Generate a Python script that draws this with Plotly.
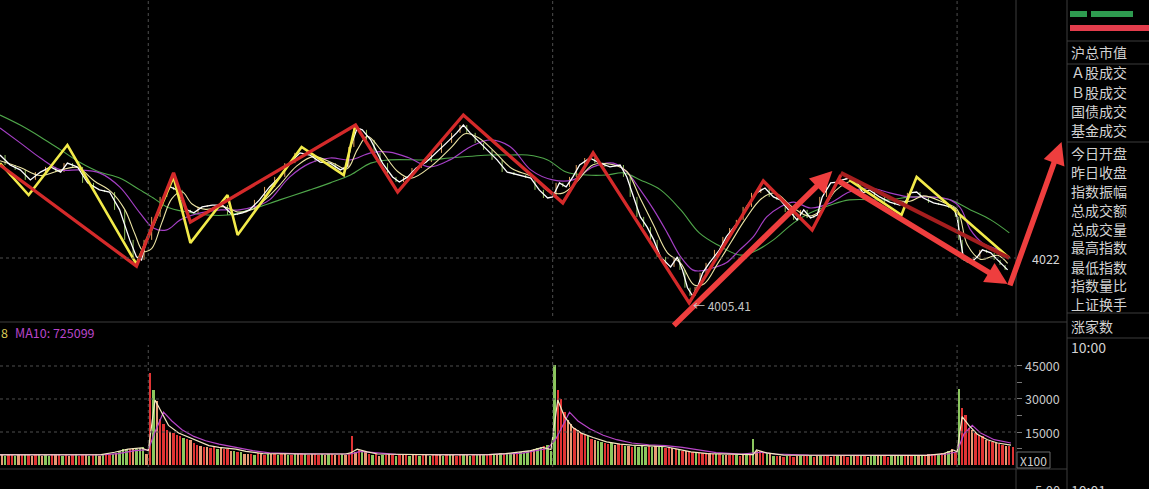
import plotly.graph_objects as go

# ---- price pane: x = minutes counted from the left edge, y = index points ----
close_min = [0, 6, 12, 18, 24, 30, 36, 40, 46, 52, 59, 65, 71, 77, 81, 84, 87, 93, 97, 101,
             105, 111, 115, 120, 126, 132, 138, 144, 148, 154, 160, 166, 172, 178, 184, 190, 196, 202, 206, 208,
             212, 215, 220, 224, 227, 233, 237, 242, 247, 253, 259, 265, 271, 275, 279, 285, 289, 295, 301, 309,
             315, 320, 325, 328, 332, 336, 340, 344, 350, 356, 362, 368, 372, 376, 380, 384, 388, 392, 398, 402,
             405, 408, 411, 414, 417, 421, 427, 431, 435, 439, 443, 449, 454, 459, 463, 469, 473, 477, 481, 485,
             488, 493, 497, 500, 504, 509, 512, 516, 522, 528, 534, 537, 540, 544, 548, 554, 560, 566, 568, 570,
             572, 576, 580, 583, 588, 592, 595, 598]
close_val = [4060.1, 4056.4, 4054.6, 4050.9, 4053.8, 4055.7, 4053.8, 4057.1, 4055.7, 4049.8,
             4047.2, 4046.4, 4039.8, 4028.7, 4022.4, 4021.3, 4028.7, 4037.2, 4044.6, 4048.3,
             4047.2, 4039.8, 4038.7, 4040.9, 4041.6, 4041.6, 4037.9, 4038.7, 4039.8, 4043.5,
             4048.3, 4052.0, 4057.1, 4060.9, 4060.1, 4057.5, 4057.1, 4054.6, 4055.7, 4063.1,
             4070.1, 4069.4, 4065.7, 4060.9, 4057.1, 4052.0, 4050.1, 4052.0, 4055.3, 4057.5,
             4060.9, 4064.6, 4068.3, 4071.2, 4068.3, 4064.6, 4062.0, 4058.3, 4053.8, 4052.7,
             4051.6, 4047.2, 4044.2, 4044.6, 4049.8, 4048.3, 4052.0, 4056.4, 4059.0, 4057.1,
             4055.7, 4056.4, 4052.0, 4044.6, 4037.2, 4033.5, 4028.7, 4022.4, 4018.7, 4022.4,
             4017.6, 4011.0, 4008.0, 4011.3, 4016.5, 4020.2, 4025.0, 4029.8, 4033.1, 4036.1,
             4040.9, 4046.1, 4047.9, 4044.6, 4043.5, 4039.0, 4036.1, 4039.8, 4036.8, 4037.9,
             4044.6, 4049.8, 4050.1, 4050.9, 4051.6, 4049.8, 4046.1, 4047.2, 4044.6, 4042.7,
             4041.6, 4042.4, 4046.1, 4046.4, 4044.2, 4042.4, 4041.6, 4040.5, 4037.2, 4028.7,
             4021.3, 4020.2, 4022.4, 4025.0, 4023.9, 4021.3, 4019.4, 4017.6]

# short average (cream line)
ma_cream_min = [0, 12, 24, 36, 46, 56, 66, 74, 80, 85, 90, 96, 102, 108, 114, 122, 132, 142, 150, 158,
                166, 176, 186, 198, 206, 212, 218, 226, 236, 244, 256, 268, 276, 284, 294, 304, 316, 326, 334, 342,
                352, 364, 372, 380, 388, 396, 404, 412, 418, 426, 434, 442, 452, 460, 470, 480, 488, 496, 506, 516,
                528, 540, 548, 560, 568, 574, 582, 592, 598]
ma_cream_val = [4058.0, 4055.5, 4052.5, 4054.5, 4055.5, 4050.5, 4046.5, 4040.0, 4031.0, 4024.5,
                4025.5, 4035.0, 4044.0, 4046.5, 4042.0, 4040.0, 4041.0, 4039.0, 4040.0, 4044.0,
                4049.0, 4056.0, 4059.5, 4057.0, 4055.0, 4062.0, 4067.0, 4062.0, 4054.0, 4051.5,
                4056.0, 4063.0, 4068.0, 4066.5, 4061.0, 4055.0, 4052.0, 4046.5, 4046.0, 4050.0,
                4056.5, 4056.5, 4054.0, 4044.0, 4034.0, 4024.0, 4020.0, 4012.0, 4012.5, 4020.0,
                4028.0, 4036.0, 4044.0, 4046.0, 4041.0, 4037.5, 4040.0, 4047.0, 4050.5, 4048.0,
                4044.0, 4043.0, 4045.0, 4042.5, 4040.0, 4027.0, 4021.5, 4023.0, 4020.0]

ma_purple_min = [0, 12, 24, 36, 47, 59, 71, 83, 91, 99, 107, 119, 131, 142, 154, 160, 172, 184, 196, 208,
                 220, 231, 243, 255, 267, 279, 291, 303, 315, 328, 340, 352, 364, 372, 380, 388, 396, 404, 411, 415,
                 423, 431, 439, 447, 455, 463, 471, 481, 493, 504, 516, 528, 540, 552, 564, 570, 576, 583, 592, 598]
ma_purple_val = [4070.1, 4064.6, 4059.0, 4054.6, 4054.6, 4053.5, 4048.3, 4038.7, 4033.1, 4032.4,
                 4036.1, 4038.7, 4039.8, 4039.8, 4041.6, 4043.5, 4052.0, 4057.1, 4059.0, 4058.3,
                 4060.9, 4061.2, 4059.0, 4055.7, 4058.3, 4063.1, 4065.7, 4063.1, 4054.6, 4050.9,
                 4050.9, 4055.7, 4057.1, 4053.8, 4047.2, 4039.8, 4031.3, 4022.4, 4017.6, 4017.2,
                 4018.3, 4020.2, 4025.0, 4029.8, 4037.2, 4040.9, 4042.7, 4040.5, 4042.4, 4046.4,
                 4047.9, 4046.1, 4044.6, 4044.6, 4043.5, 4040.5, 4032.4, 4027.6, 4025.0, 4022.4]

ma_green_min = [0, 12, 24, 36, 47, 59, 71, 83, 91, 99, 111, 123, 135, 148, 166, 184, 196, 208, 220, 231,
                255, 267, 291, 303, 313, 325, 336, 348, 360, 370, 380, 392, 404, 415, 426, 439, 447, 459, 471, 481,
                493, 504, 528, 540, 552, 564, 576, 588, 599]
ma_green_val = [4074.9, 4071.2, 4066.8, 4062.0, 4057.5, 4053.8, 4051.6, 4047.2, 4044.2, 4040.9,
                4039.0, 4037.9, 4037.9, 4039.8, 4043.5, 4047.2, 4049.8, 4052.7, 4057.1, 4058.3,
                4058.3, 4059.0, 4060.1, 4060.1, 4060.1, 4058.3, 4053.8, 4052.7, 4052.7, 4053.5,
                4050.9, 4047.2, 4039.8, 4031.3, 4026.8, 4023.1, 4024.2, 4028.7, 4035.0, 4038.7,
                4041.6, 4043.5, 4043.5, 4044.6, 4044.6, 4043.5, 4039.8, 4036.1, 4031.3]

# hand-drawn wave lines
zig_red_min = [0, 81, 103, 113, 211, 236, 275, 334, 352, 409, 453, 482, 499]
zig_red_val = [4056.4, 4019.0, 4053.5, 4035.3, 4071.2, 4046.4, 4074.9, 4042.4, 4060.9, 4005.4, 4050.5, 4032.4, 4052.7]
zig_yellow_min = [0, 17, 40, 81, 103, 113, 135, 141, 179, 204, 211, None, 504, 535, 538, 544, 599]
zig_yellow_val = [4057.1, 4045.3, 4063.8, 4019.7, 4052.0, 4027.6, 4045.3, 4030.5, 4063.1, 4052.7, 4071.2, None,
                  4050.9, 4037.9, 4042.7, 4052.0, 4022.0]
channel_min = [499, 599]
channel_val = [4053.5, 4022.0]

# hand-drawn arrows: tail -> head
arrow_tail_min = [399, 497, 599]
arrow_tail_val = [3996.5, 4050.8, 4011.3]
arrow_head_min = [494, 598, 630]
arrow_head_val = [4054.2, 4012.4, 4064.9]

session_open_min = [88, 328, 568]
price_ref = 4022
low_min, low_val = 409, 4005.41

# ---- volume pane (x100), one bar per 2 minutes ----
volume = [
    4800, 4200, 5000, 4600, 4300, 4700, 4400, 5200, 4500, 4100, 4600, 4800, 4300, 4500, 4200, 4900, 4400,
    4600, 4100, 4500, 4300, 4700, 4800, 4200, 4400, 4600, 4300, 4500, 4900, 4200, 4600, 4400, 4800, 5000,
    5600, 6500, 7200, 7400, 7300, 7600, 7500, 7800, 8200, 5000,
    42000, 34000, 29000, 21000, 18500, 16000, 15000, 14500, 13500, 13000, 12500, 12000, 11500, 10000,
    9000, 8500, 8200, 8000, 7800, 8000, 7500, 7600, 7200, 7400, 6500, 6200, 6000, 5800,
    5200, 4800, 5000, 4600, 5300, 4900, 4700, 5100, 4800, 5000, 4500, 4900, 5200, 4700, 4600, 5000,
    4800, 5300, 4900, 4600, 4800, 5100, 4700, 4900, 4500, 4800, 5000, 4600, 4700, 4900, 4400, 4800,
    13000, 6000, 6800, 6500, 6000,
    5000, 4600, 4800, 4300, 4700, 4500, 4900, 4400, 4200, 4600, 4500, 4800, 4100, 4400, 4700, 4300,
    4500, 4600, 4200, 4400, 4800, 4500, 4300, 4600, 4700, 4400, 4200, 4500, 4800, 4600, 4300, 4500,
    4900, 4700, 4400, 5100, 5000,
    5000, 5200, 5400, 5100, 5300, 5600, 5400, 5500, 5800, 5600, 6200, 6800, 7200, 7600, 8000, 8600, 9200, 6500,
    45500, 34000, 30000, 24000, 20500, 18500, 17000, 16000, 14500, 13500, 13000, 12000, 11500, 11000, 10500, 10000,
    9500, 9800, 9200, 9500, 9000,
    8500, 8800, 8200, 8600, 8400, 8800, 8300, 8500, 8200, 8600, 8000, 8400, 7800, 8100, 7600, 7200,
    6800, 6500, 6200, 6400, 6000, 5800, 5600, 5500, 5300, 5400, 5200, 5000,
    4800, 4500, 4700, 4400, 4600, 4500, 4300, 4700, 4400, 4600,
    12000, 6500, 6200, 6000, 5500, 5000,
    4200, 3900, 4100, 3800, 4300, 4000, 3700, 4200, 4100, 3900, 4000, 4400, 3800, 4100, 3900, 4200,
    4000, 3800, 4300, 3900, 4100, 4000, 3700, 4200, 4400, 3900, 4000, 4100, 3800, 4200, 4000, 3900,
    4300, 4100, 3800, 4000, 4200, 3900, 4100, 4400, 4000, 4200, 4300, 4500, 4400, 4600, 4800,
    5000, 5200, 4800, 5400, 5600, 6500, 7200, 6000,
    34500, 26000, 22500, 17000, 16000, 14500, 13500, 13000, 11500, 11000, 10500, 10000, 9500, 9000, 8800, 8500, 8000,
]
vol_colors = ("ogrrgorgro" "rgoggrorgr" "orgrrogrgo" "grrgogggro" "gggorgorrr" "orrrgrorro"
              "rorrgorrog" "rgoorgrorg" "orgrogrgor" "grorrgogro" "rgorrorgor" "grogrorgro"
              "rgorgrogrr" "ogrgorrgog" "rgogrrgogr" "ggorgggrog" "grgggrrroo" "rorrgroggr"
              "rgorrgorgg" "ggrgoggrro" "rgrorrgrrr" "orgrgorrgr" "ogrgorrgog" "rorgrrogrr"
              "grogrrorgo" "rrgorgrogg" "ogrrgoggro" "rgogrorrgr" "ogorgrrror" "rrorrorror" "r")

vol_ma5_min = [0, 30, 60, 68, 76, 84, 88, 92, 96, 100, 106, 112, 118, 124, 130, 140, 146, 156, 180, 205,
               208, 212, 218, 224, 260, 290, 300, 315, 322, 327, 331, 335, 340, 345, 352, 360, 368, 375, 385, 395,
               402, 410, 420, 440, 447, 449, 455, 465, 520, 550, 560, 566, 568, 571, 575, 580, 586, 592, 600]
vol_ma5_val = [4600, 4500, 4700, 5800, 7200, 7800, 6500, 29500, 24000, 18000, 14500, 12500, 10500, 8800, 8000,
               7200, 6200, 5200, 5000, 5000, 5500, 7200, 6000, 5000, 4600, 4700, 5200, 6500, 8000, 7000,
               29500, 22000, 17000, 14500, 12500, 10500, 9500, 9000, 8700, 8300, 7200, 6000, 5200, 4600, 4700,
               6800, 5500, 4500, 4300, 4400, 5200, 6800, 6000, 22000, 18000, 14000, 11500, 10000, 9000]
vol_ma10_min = [0, 60, 70, 80, 88, 92, 97, 102, 108, 115, 122, 130, 140, 150, 160, 180, 208, 214, 222, 235,
                290, 310, 325, 330, 338, 343, 350, 358, 366, 375, 385, 395, 405, 415, 425, 440, 452, 460, 480, 550,
                562, 568, 572, 577, 582, 590, 600]
vol_ma10_val = [4700, 4600, 5200, 6500, 7000, 15000, 24000, 20000, 16000, 13000, 11000, 9500, 8000, 6500, 5500,
                5100, 5000, 6200, 5600, 4800, 4700, 5400, 7500, 12000, 24000, 20000, 16500, 13500, 11500, 10000,
                9200, 8800, 8000, 6800, 5600, 4900, 5800, 5000, 4500, 4400, 5000, 6000, 14000, 18000, 14500,
                11500, 10000]
vol_ticks = [15000, 30000, 45000]

side_labels = ["沪总市值", "Ａ股成交", "Ｂ股成交", "国债成交", "基金成交", "今日开盘", "昨日收盘", "指数振幅",
               "总成交额", "总成交量", "最高指数", "最低指数", "指数量比", "上证换手", "涨家数", "10:00"]
side_label_y = [52, 72, 92, 111, 130, 153, 172, 191, 210, 229, 247, 267, 285, 304, 326, 347]

W, H = 1149, 489
MIN_PX = 1.685                 # pixels per minute
P_TOP, P_BOT = 4117.46, 3998.32
V_TOP = 61357
FONT = "Noto Sans CJK SC, Noto Sans, sans-serif"
GRID = "#4e4e4e"
EDGE = "#3d3d3d"
BAR_COL = {"r": "#e03434", "g": "#8cc75e", "o": "#e79a74"}


def xp(px):
    return px / W


def yp(py):
    return 1 - py / H


fig = go.Figure()

# small up/down ticks between successive closes
up_x, up_y, dn_x, dn_y = [], [], [], []
for i in range(1, len(close_min)):
    a, b = close_val[i - 1], close_val[i]
    m = (close_min[i - 1] + close_min[i]) / 2
    xs, ys = (up_x, up_y) if b >= a else (dn_x, dn_y)
    xs += [m, m, None]
    ys += [a, b, None]
fig.add_trace(go.Scatter(x=up_x, y=up_y, mode="lines", line=dict(color="#e0a15c", width=1), hoverinfo="skip"))
fig.add_trace(go.Scatter(x=dn_x, y=dn_y, mode="lines", line=dict(color="#8dbd5a", width=1), hoverinfo="skip"))

fig.add_trace(go.Scatter(x=ma_green_min, y=ma_green_val, mode="lines", line=dict(color="#4fa64a", width=1.1, shape="spline")))
fig.add_trace(go.Scatter(x=ma_purple_min, y=ma_purple_val, mode="lines", line=dict(color="#a43fc4", width=1.2, shape="spline")))
fig.add_trace(go.Scatter(x=ma_cream_min, y=ma_cream_val, mode="lines", line=dict(color="#ece4a4", width=1.1, shape="spline")))
fig.add_trace(go.Scatter(x=close_min, y=close_val, mode="lines", line=dict(color="#ffffff", width=1.3)))
fig.add_trace(go.Scatter(x=zig_yellow_min, y=zig_yellow_val, mode="lines", connectgaps=False,
                         line=dict(color="#f2ea4a", width=2.6)))
fig.add_trace(go.Scatter(x=channel_min, y=channel_val, mode="lines", line=dict(color="#a51e1e", width=4)))
fig.add_trace(go.Scatter(x=zig_red_min, y=zig_red_val, mode="lines", line=dict(color="#d42a2a", width=3.3)))

# volume pane
bar_x = [2 * i + 1 for i in range(len(volume))]
fig.add_trace(go.Bar(x=bar_x, y=volume, yaxis="y2", width=1.4,
                     marker=dict(color=[BAR_COL[c] for c in vol_colors], line=dict(width=0))))
fig.add_trace(go.Scatter(x=vol_ma10_min, y=vol_ma10_val, yaxis="y2", mode="lines", line=dict(color="#b845c8", width=1.2)))
fig.add_trace(go.Scatter(x=vol_ma5_min, y=vol_ma5_val, yaxis="y2", mode="lines", line=dict(color="#f3e6c0", width=1.2)))

x_chart_end = 1016 / MIN_PX
shapes = [
    dict(type="line", xref="x", yref="y", x0=0, x1=x_chart_end, y0=price_ref, y1=price_ref,
         line=dict(color=GRID, width=1, dash="dot")),
]
for v in vol_ticks:
    shapes.append(dict(type="line", xref="x", yref="y2", x0=0, x1=x_chart_end, y0=v, y1=v,
                       line=dict(color=GRID, width=1, dash="dot")))
for m in session_open_min:
    shapes.append(dict(type="line", xref="x", yref="paper", x0=m, x1=m, y0=yp(316), y1=1,
                       line=dict(color=GRID, width=1, dash="dot")))
    shapes.append(dict(type="line", xref="x", yref="paper", x0=m, x1=m, y0=yp(467), y1=yp(345),
                       line=dict(color=GRID, width=1, dash="dot")))
# frame lines
for px in (1016, 1067):
    shapes.append(dict(type="line", xref="paper", yref="paper", x0=xp(px), x1=xp(px), y0=0, y1=1,
                       line=dict(color=EDGE, width=1)))
for py in (322, 469):
    shapes.append(dict(type="line", xref="paper", yref="paper", x0=0, x1=xp(1067), y0=yp(py), y1=yp(py),
                       line=dict(color=EDGE, width=1)))
for py in (41, 64, 142, 313, 338):
    shapes.append(dict(type="line", xref="paper", yref="paper", x0=xp(1067), x1=1, y0=yp(py), y1=yp(py),
                       line=dict(color=EDGE, width=1)))
shapes.append(dict(type="rect", xref="paper", yref="paper", x0=xp(1017), x1=xp(1050), y0=yp(468), y1=yp(452),
                   line=dict(color="#6a6a6a", width=1)))
# top-right gauge bars
shapes.append(dict(type="rect", xref="paper", yref="paper", x0=xp(1070), x1=xp(1087), y0=yp(17), y1=yp(11),
                   fillcolor="#2e9b50", line=dict(width=0)))
shapes.append(dict(type="rect", xref="paper", yref="paper", x0=xp(1091), x1=xp(1133), y0=yp(17), y1=yp(11),
                   fillcolor="#2e9b50", line=dict(width=0)))
shapes.append(dict(type="rect", xref="paper", yref="paper", x0=xp(1070), x1=1, y0=yp(31), y1=yp(25),
                   fillcolor="#e23c4b", line=dict(width=0)))

annotations = []
for tx, ty, hx, hy in zip(arrow_tail_min, arrow_tail_val, arrow_head_min, arrow_head_val):
    annotations.append(dict(x=hx, y=hy, ax=tx, ay=ty, xref="x", yref="y", axref="x", ayref="y",
                            text="", showarrow=True, arrowhead=2, arrowsize=0.8, arrowwidth=5.5,
                            arrowcolor="#ee3e3e", standoff=0))
annotations.append(dict(x=low_min, y=low_val, xref="x", yref="y", text=f"← {low_val:.2f}", showarrow=False,
                        xanchor="left", yanchor="middle", xshift=2, yshift=-3,
                        font=dict(size=12, color="#c4c4c4")))
annotations.append(dict(x=xp(1062), y=price_ref, xref="paper", yref="y", text=str(price_ref), showarrow=False,
                        xanchor="right", yanchor="middle", font=dict(size=12.5, color="#d6d6d6")))
for v in vol_ticks:
    annotations.append(dict(x=xp(1062), y=v, xref="paper", yref="y2", text=str(v), showarrow=False,
                            xanchor="right", yanchor="middle", font=dict(size=12.5, color="#c8c8c8")))
annotations.append(dict(x=xp(1033.5), y=yp(460), xref="paper", yref="paper", text="X100", showarrow=False,
                        xanchor="center", yanchor="middle", font=dict(size=12, color="#d0d0d0")))
annotations.append(dict(x=0, y=yp(332), xref="paper", yref="paper", text="8", showarrow=False,
                        xanchor="left", yanchor="middle", xshift=-1, font=dict(size=12.5, color="#d9c957")))
annotations.append(dict(x=xp(13), y=yp(332), xref="paper", yref="paper", text="MA10: 725099", showarrow=False,
                        xanchor="left", yanchor="middle", font=dict(size=12.5, color="#b845c8")))
for lab, ly in zip(side_labels, side_label_y):
    annotations.append(dict(x=xp(1069), y=yp(ly), xref="paper", yref="paper", text=lab, showarrow=False,
                            xanchor="left", yanchor="middle", font=dict(size=14, color="#d2d2d2")))
annotations.append(dict(x=xp(1062), y=yp(490), xref="paper", yref="paper", text="5.00", showarrow=False,
                        xanchor="right", yanchor="middle", font=dict(size=13, color="#c8c8c8")))
annotations.append(dict(x=xp(1069), y=yp(490), xref="paper", yref="paper", text="10:01", showarrow=False,
                        xanchor="left", yanchor="middle", font=dict(size=14, color="#d2d2d2")))

fig.update_layout(
    width=W, height=H, margin=dict(l=0, r=0, t=0, b=0),
    paper_bgcolor="#000000", plot_bgcolor="#000000", showlegend=False,
    font=dict(family=FONT, color="#d2d2d2"),
    bargap=0,
    xaxis=dict(range=[0, W / MIN_PX], visible=False, fixedrange=True),
    yaxis=dict(domain=[yp(322), 1], range=[P_BOT, P_TOP], visible=False),
    yaxis2=dict(domain=[yp(465), yp(330)], range=[0, V_TOP], anchor="free", position=xp(1016), side="right",
                ticks="outside", ticklen=5, tickcolor="#777777", tickvals=[7500 * k for k in range(1, 7)],
                showticklabels=False, showgrid=False, zeroline=False, showline=False),
    shapes=shapes,
    annotations=annotations,
)

fig.write_html("out.html", config={"displayModeBar": False},
               post_script="document.body.style.margin='0';document.body.style.overflow='hidden';")
